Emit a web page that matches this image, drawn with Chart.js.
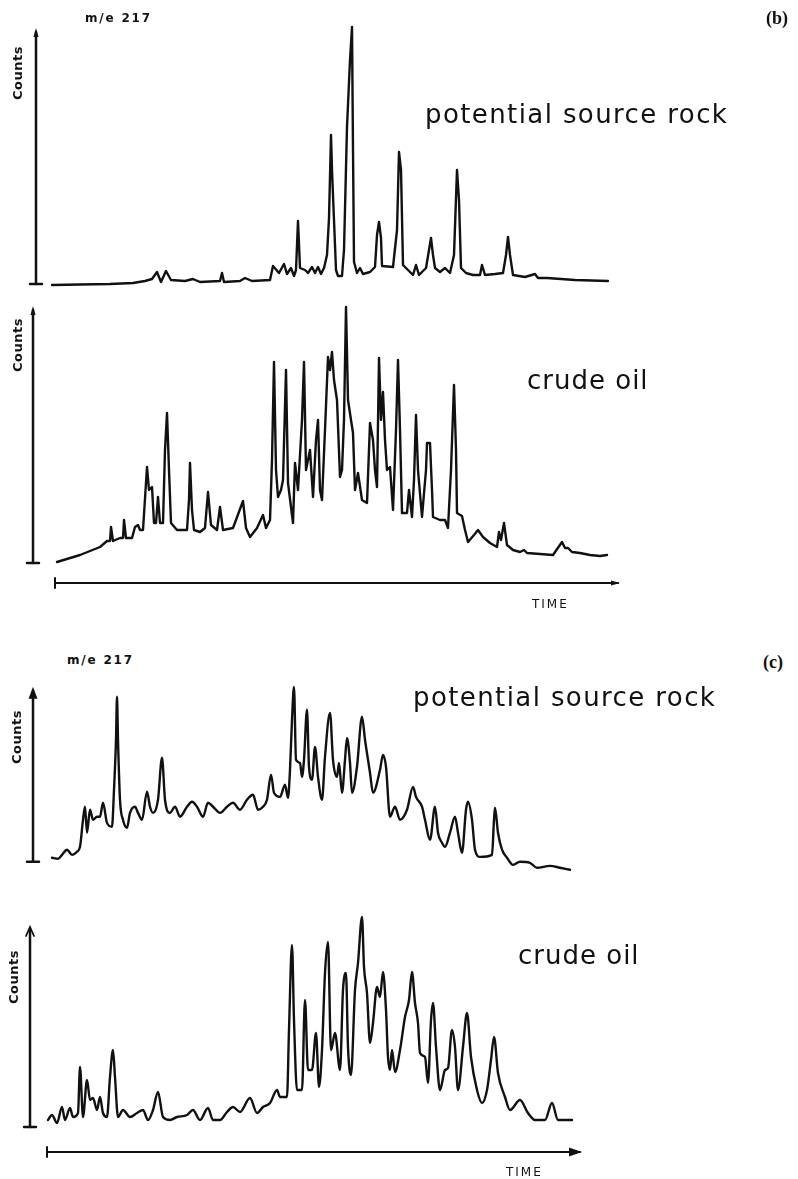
<!DOCTYPE html>
<html>
<head>
<meta charset="utf-8">
<script src="https://cdn.jsdelivr.net/npm/chart.js@4.4.1/dist/chart.umd.min.js"></script>
<style>
  body { margin: 0; background: #fff; }
  #page { position: relative; width: 798px; height: 1179px; overflow: hidden; background: #fff; color: #111; }
  #page canvas { position: absolute; left: 0; }
  .lbl { position: absolute; white-space: nowrap; line-height: 1; font-family: "DejaVu Sans", sans-serif; }
  .tag { font-weight: bold; font-size: 12px; letter-spacing: 1.8px; }
  .fig { font-family: "Liberation Serif", serif; font-weight: bold; font-size: 18px; }
  .name { font-size: 26px; letter-spacing: 1.4px; }
  .oil { letter-spacing: 1px; }
  .counts { font-weight: bold; font-size: 13px; letter-spacing: 0.5px; transform: translate(-50%, -50%) rotate(-90deg); }
  .time { font-size: 12px; letter-spacing: 2px; }
</style>
</head>
<body>
<div id="page">
  <canvas id="rockB" width="798" height="290" style="top:14px"></canvas>
  <canvas id="oilB" width="798" height="324" style="top:296px"></canvas>
  <canvas id="rockC" width="798" height="208" style="top:676px"></canvas>
  <canvas id="oilC" width="798" height="279" style="top:900px"></canvas>

  <div class="lbl tag" style="left:85px;top:12px">m/e 217</div>
  <div class="lbl fig" style="left:766px;top:9px">(b)</div>
  <div class="lbl name" style="left:425px;top:101px">potential source rock</div>
  <div class="lbl counts" style="left:17px;top:73px">Counts</div>
  <div class="lbl counts" style="left:17px;top:345px">Counts</div>
  <div class="lbl name oil" style="left:527px;top:367px">crude oil</div>
  <div class="lbl time" style="left:532px;top:598px">TIME</div>

  <div class="lbl tag" style="left:67px;top:654px">m/e 217</div>
  <div class="lbl fig" style="left:763px;top:653px">(c)</div>
  <div class="lbl name" style="left:413px;top:684px">potential source rock</div>
  <div class="lbl counts" style="left:16px;top:737px">Counts</div>
  <div class="lbl counts" style="left:13px;top:977px">Counts</div>
  <div class="lbl name oil" style="left:518px;top:942px">crude oil</div>
  <div class="lbl time" style="left:506px;top:1166px">TIME</div>
</div>

<script>
// ─── TRACES (m/e 217) ─────────────────────────────────────────────────────────
// time: arbitrary minutes from the Counts axis; counts: % of the axis height

// (b) potential source rock
const rockB_time = [
  1.6, 4.4, 7.4, 9.7, 10.9, 11.6, 12.1, 12.5, 13.0, 13.5, 14.9, 15.7, 16.4, 18.4, 18.6, 18.8,
  20.4, 20.9, 21.6, 23.4, 23.7, 24.3, 24.8, 25.1, 25.5, 25.8, 26.0, 26.2, 26.4, 26.9, 27.2,
  27.6, 27.9, 28.2, 28.5, 28.8, 29.1, 29.3, 29.5, 29.6, 29.8, 30.0, 30.2, 30.6, 30.8, 31.1,
  31.4, 31.6, 31.7, 31.8, 32.1, 32.4, 32.7, 33.4, 33.9, 34.1, 34.3, 34.5, 34.6, 35.7, 36.1,
  36.3, 36.5, 36.7, 37.4, 37.7, 38.0, 38.3, 39.0, 39.3, 39.5, 39.7, 39.9, 40.4, 40.9, 41.4,
  41.8, 42.1, 42.3, 42.5, 43.0, 43.7, 44.4, 44.6, 44.9, 45.9, 46.7, 47.0, 47.2, 47.4, 47.7,
  48.9, 49.9, 50.2, 51.1, 53.9, 57.2
];
const rockB_counts = [
  -0.4, -0.2, 0, 0.4, 1.2, 2, 4.8, 0.8, 5.2, 1.6, 1.2, 2, 0.8, 1.2, 4.4, 0.8,
  1.2, 2.4, 1.2, 1.6, 7.2, 4.4, 8, 4, 6.4, 3.2, 5.6, 25.2, 6.4, 5.6, 4.4,
  6.8, 4.4, 6.8, 4, 6.4, 11.6, 26.4, 59.6, 45.6, 25.6, 5.6, 3.2, 3.2, 13.6, 62.8,
  89.6, 102.8, 53.6, 8.8, 4.4, 6.4, 4, 4.8, 6.8, 19.6, 24.8, 18.4, 7.2, 6.8, 21.6,
  52.8, 45.6, 7.6, 4.8, 3.6, 7.6, 3.6, 6.4, 13.6, 18.4, 11.6, 6.4, 4.8, 6.4, 4.4,
  11.6, 45.6, 33.6, 6.4, 4.4, 3.6, 3.6, 7.6, 3.6, 4, 4.4, 11.6, 18.8, 11.6, 3.6,
  2.8, 4, 2.4, 2.4, 1.6, 1.2
];

// (b) crude oil
const oilB_time = [
  2.4, 4.7, 6.7, 7.4, 7.7, 7.8, 8.0, 8.7, 9.0, 9.1, 9.3, 9.9, 10.2, 10.5, 10.7, 11.0, 11.4,
  11.6, 11.9, 12.1, 12.3, 12.5, 12.7, 13.0, 13.2, 13.4, 13.6, 13.8, 14.4, 15.4, 15.6, 15.7,
  15.9, 16.1, 16.7, 17.2, 17.5, 17.8, 18.4, 18.7, 19.0, 20.0, 21.0, 21.3, 21.7, 22.4, 23.0,
  23.3, 23.7, 23.9, 24.1, 24.3, 24.5, 24.8, 25.0, 25.3, 25.5, 26.0, 26.2, 26.5, 26.9, 27.1,
  27.3, 27.7, 28.0, 28.3, 28.5, 28.7, 28.9, 29.2, 29.5, 29.7, 29.9, 30.1, 30.4, 30.7, 30.9,
  31.1, 31.3, 31.5, 31.8, 32.0, 32.2, 32.5, 32.9, 33.4, 33.7, 34.0, 34.2, 34.4, 34.6, 34.8,
  35.0, 35.2, 35.4, 35.7, 36.0, 36.3, 36.5, 36.7, 36.9, 37.4, 37.6, 37.9, 38.1, 38.3, 38.5,
  38.9, 39.3, 39.4, 39.7, 39.9, 40.0, 40.7, 41.2, 41.5, 41.8, 42.1, 42.3, 42.4, 42.9, 43.2,
  43.5, 44.1, 44.5, 45.0, 45.7, 46.4, 46.6, 46.8, 47.1, 47.4, 48.0, 48.7, 49.1, 49.4, 50.7,
  52.0, 52.9, 53.2, 53.5, 53.9, 54.7, 55.7, 56.7, 57.4
];
const oilB_counts = [
  0.4, 3.2, 6.4, 8.8, 8.8, 14.4, 8.8, 10, 10, 17.2, 10, 10, 14.4, 15.2, 13.2, 13.2, 38.4,
  29.2, 30.4, 16, 16, 26.4, 16, 16, 45.2, 60, 37.2, 16, 13.2, 13.2, 25.2, 40,
  21.2, 13.2, 12.4, 14, 28.4, 15.2, 13.2, 22.4, 13.2, 14, 24.8, 14, 10.4, 14, 19.2,
  14, 17.2, 41.2, 80.4, 37.2, 26.4, 29.2, 33.2, 77.2, 32, 16, 40, 29.2, 57.2, 80.4,
  37.2, 45.2, 26.4, 49.2, 57.2, 29.2, 25.2, 53.2, 82.4, 77.2, 84.4, 73.2, 65.2, 34.4, 37.2,
  57.2, 102.4, 65.2, 57.2, 52, 29.2, 36, 25.2, 24, 56, 49.2, 37.2, 30.4, 82, 57.2,
  68.4, 49.2, 37.2, 38.4, 21.2, 53.2, 81.2, 53.2, 20, 20, 29.2, 18.4, 33.2, 59.2, 37.2,
  18.4, 37.2, 48, 48, 29.2, 18.4, 17.2, 17.2, 14, 37.2, 71.2, 45.2, 20, 18.8, 13.2,
  8.4, 11.2, 13.2, 10.4, 8, 6.4, 12.4, 9.2, 16, 7.2, 5.2, 4.4, 5.2, 4, 3.6,
  3.2, 8.4, 6, 6, 4.4, 4, 3.2, 2.8, 3.2
];

// (c) potential source rock
const rockC_time = [
  1.9, 2.5, 2.9, 3.4, 3.9, 4.4, 4.7, 5.0, 5.2, 5.4, 5.7, 6.0, 6.4, 6.7, 7.0, 7.4, 7.9,
  8.1, 8.3, 8.4, 8.5, 8.7, 9.0, 9.4, 9.7, 10.2, 10.5, 10.9, 11.4, 11.7, 12.0, 12.5, 12.9,
  13.2, 13.7, 14.2, 14.7, 15.4, 15.9, 16.4, 17.0, 17.5, 18.0, 18.7, 19.4, 20.0, 20.7, 21.4,
  22.0, 22.5, 23.0, 23.4, 23.8, 24.1, 24.7, 25.2, 25.5, 25.7, 25.9, 26.1, 26.3, 26.7, 26.9,
  27.1, 27.4, 27.6, 27.9, 28.2, 28.5, 28.9, 29.2, 29.7, 30.0, 30.4, 30.6, 30.9, 31.2, 31.4,
  31.7, 31.9, 32.4, 32.9, 33.2, 33.7, 34.0, 34.7, 35.0, 35.3, 35.7, 36.2, 36.7, 37.4, 38.0,
  38.3, 38.9, 39.2, 39.7, 40.2, 40.5, 40.9, 41.2, 41.7, 42.2, 42.5, 42.9, 43.3, 43.5, 43.9,
  44.2, 44.7, 45.9, 46.1, 46.2, 46.5, 46.9, 47.4, 48.0, 48.7, 49.7, 50.4, 51.7, 52.7, 53.7
];
const rockC_counts = [
  2.4, 1.8, 4.1, 7.1, 4.1, 5.9, 8.8, 24.7, 32.4, 17.1, 30.6, 24.7, 26.5, 26.5, 34.7, 22.9, 20.6,
  42.4, 71.8, 97.1, 71.8, 36.5, 24.7, 20, 28.8, 32.4, 28.8, 24.7, 41.2, 32.4, 28.8, 36.5, 61.2,
  36.5, 28.8, 32.4, 26.5, 32.4, 35.3, 32.4, 26.5, 34.7, 32.4, 28.8, 32.4, 34.7, 30.6, 36.5,
  39.4, 30.6, 32.4, 36.5, 51.2, 40.6, 38.2, 45.3, 37.6, 54.1, 83.5, 102.9, 60, 58.2, 50,
  60, 89.4, 55.9, 48.2, 67.6, 50, 36.5, 61.8, 87.6, 60, 50, 58.2, 40.6, 60, 72.9,
  58.2, 40.6, 55.9, 85.3, 71.8, 52.4, 40.6, 54.1, 62.9, 55.9, 26.5, 32.4, 24.7, 30.6, 44.1,
  38.2, 32.4, 24.7, 12.9, 32.4, 17.1, 11.2, 8.8, 17.1, 26.5, 17.1, 5.3, 30.6, 35.3, 24.7,
  7.1, 2.9, 4.1, 24.7, 31.8, 17.1, 7.1, 2.4, -1.8, 0, -0.6, -3.5, -2.4, -3.5, -4.7
];

// (c) crude oil
const oilC_time = [
  1.8, 2.2, 2.7, 3.2, 3.5, 4.0, 4.3, 4.8, 5.0, 5.3, 5.7, 6.0, 6.3, 6.7, 7.0, 7.3, 7.7,
  8.0, 8.3, 8.5, 8.8, 9.3, 10.0, 10.7, 11.3, 11.8, 12.3, 12.8, 13.3, 14.0, 14.7, 15.7, 16.3,
  17.0, 17.8, 18.3, 19.0, 19.7, 20.3, 21.0, 22.0, 22.7, 23.3, 24.0, 24.7, 25.0, 25.7, 25.9,
  26.2, 26.4, 26.7, 27.2, 27.5, 27.8, 28.2, 28.6, 28.9, 29.2, 29.5, 29.8, 30.1, 30.5, 31.0,
  31.3, 31.6, 31.8, 32.1, 32.5, 32.8, 33.2, 33.4, 33.7, 34.0, 34.3, 34.7, 35.0, 35.3, 35.6,
  35.8, 36.0, 36.2, 36.5, 37.0, 37.5, 37.9, 38.2, 38.5, 38.8, 39.0, 39.5, 39.8, 40.1, 40.3,
  40.6, 41.0, 41.5, 41.8, 42.2, 42.5, 42.8, 43.3, 43.7, 44.1, 44.7, 45.2, 45.7, 46.1, 46.4,
  46.8, 47.5, 48.0, 49.0, 49.8, 50.5, 51.5, 52.2, 52.8, 54.2
];
const oilC_counts = [
  3.5, 6, 2, 10, 3.5, 9.5, 5, 7, 30, 5, 23.5, 13.5, 14.5, 8.5, 15, 7, 5,
  25, 38.5, 25, 5, 8.5, 5, 7, 8.5, 3.5, 8.5, 17.5, 5, 3.5, 5, 6, 8.5,
  3.5, 9.5, 3.5, 3.5, 7.5, 10, 7.5, 14.5, 7, 10, 12, 18.5, 15, 15, 48.5,
  91, 53.5, 18.5, 18.5, 63.5, 28.5, 28.5, 47, 20, 38.5, 77, 92.5, 38.5, 47, 28.5,
  68.5, 77, 40, 26, 68.5, 82, 105, 80, 67, 42, 52, 70, 65, 77.5, 58.5,
  35, 28.5, 38.5, 27.5, 38.5, 55, 63.5, 77.5, 62, 52, 37, 35, 22, 53.5, 62,
  40, 18.5, 28.5, 29.5, 48.5, 40, 18.5, 40, 57, 35, 18.5, 12, 18.5, 33.5, 45,
  27, 15, 8.5, 13.5, 7, 3.5, 3.5, 12, 3.5, 3.5
];

const INK = '#111';

// ─── PANEL LAYOUT ─────────────────────────────────────────────────────────────
const PANELS = [
  { id: 'rockB', time: rockB_time, counts: rockB_counts, smooth: false,
    pad: { left: 36, right: 162, top: 10, bottom: 15 }, xMax: 60, yMin: -2, yMax: 104,
    axis: { top: 102, head: 'thin' } },
  { id: 'oilB', time: oilB_time, counts: oilB_counts, smooth: false,
    pad: { left: 33, right: 165, top: 7, bottom: 52 }, xMax: 60, yMin: -2, yMax: 104,
    axis: { top: 102.4, head: 'thin', timeGap: 20, timeFrom: 2.2, timeTo: 58.5, timeHead: 'small' } },
  { id: 'rockC', time: rockC_time, counts: rockC_counts, smooth: true,
    pad: { left: 33, right: 165, top: 9, bottom: 12 }, xMax: 60, yMin: -6, yMax: 104,
    axis: { top: 102.4, head: 'solid' } },
  { id: 'oilC', time: oilC_time, counts: oilC_counts, smooth: true,
    pad: { left: 30, right: 168, top: 11, bottom: 48 }, xMax: 60, yMin: -2, yMax: 108,
    axis: { top: 100, head: 'open', timeGap: 25, timeFrom: 1.7, timeTo: 55, timeHead: 'solid' } }
];

// hand-drawn style axes: Counts arrow up, TIME arrow along the bottom
const penAxes = {
  id: 'penAxes',
  afterDatasetsDraw(chart, args, opts) {
    const { ctx, scales: { x, y } } = chart;
    const ax = x.getPixelForValue(0);
    const y0 = y.getPixelForValue(0);
    const yt = y.getPixelForValue(opts.top);
    ctx.save();
    ctx.strokeStyle = INK;
    ctx.fillStyle = INK;
    ctx.lineCap = 'round';
    ctx.lineWidth = 2.5;
    ctx.beginPath(); ctx.moveTo(ax, y0); ctx.lineTo(ax, yt + 3); ctx.stroke();
    ctx.beginPath(); ctx.moveTo(ax - 6, y0); ctx.lineTo(ax + 6, y0); ctx.stroke();
    if (opts.head === 'open') {
      ctx.lineWidth = 1.8;
      ctx.beginPath(); ctx.moveTo(ax - 4, yt + 9); ctx.lineTo(ax, yt); ctx.lineTo(ax + 4, yt + 9); ctx.stroke();
    } else {
      const w = opts.head === 'solid' ? 4.5 : 2.5, h = opts.head === 'solid' ? 11 : 8;
      ctx.beginPath(); ctx.moveTo(ax, yt - 1); ctx.lineTo(ax - w, yt + h); ctx.lineTo(ax + w, yt + h); ctx.closePath(); ctx.fill();
    }
    if (opts.timeGap) {
      const ty = y0 + opts.timeGap;
      const tx0 = x.getPixelForValue(opts.timeFrom), tx1 = x.getPixelForValue(opts.timeTo);
      ctx.lineWidth = 2;
      ctx.beginPath(); ctx.moveTo(tx0, ty); ctx.lineTo(tx1, ty); ctx.stroke();
      ctx.beginPath(); ctx.moveTo(tx0, ty - 5); ctx.lineTo(tx0, ty + 5); ctx.stroke();
      const hw = opts.timeHead === 'solid' ? 4.5 : 2.5, hl = opts.timeHead === 'solid' ? 11 : 7;
      ctx.beginPath(); ctx.moveTo(tx1 + 2, ty); ctx.lineTo(tx1 - hl, ty - hw); ctx.lineTo(tx1 - hl, ty + hw); ctx.closePath(); ctx.fill();
    }
    ctx.restore();
  }
};

function buildPanel(p) {
  const canvas = document.getElementById(p.id);
  return new Chart(canvas, {
    type: 'line',
    data: {
      datasets: [{
        label: p.id,
        data: p.time.map((t, i) => ({ x: t, y: p.counts[i] })),
        borderColor: INK,
        borderWidth: 2.4,
        pointRadius: 0,
        fill: false,
        tension: p.smooth ? 0.35 : 0,
        cubicInterpolationMode: p.smooth ? 'monotone' : 'default',
        borderJoinStyle: 'round',
        borderCapStyle: 'round'
      }]
    },
    options: {
      responsive: false,
      animation: false,
      events: [],
      layout: { padding: p.pad },
      plugins: {
        legend: { display: false },
        tooltip: { enabled: false },
        penAxes: p.axis
      },
      scales: {
        x: { type: 'linear', min: 0, max: p.xMax, display: false },
        y: { min: p.yMin, max: p.yMax, display: false }
      }
    },
    plugins: [penAxes]
  });
}

PANELS.forEach(buildPanel);
</script>
</body>
</html>
